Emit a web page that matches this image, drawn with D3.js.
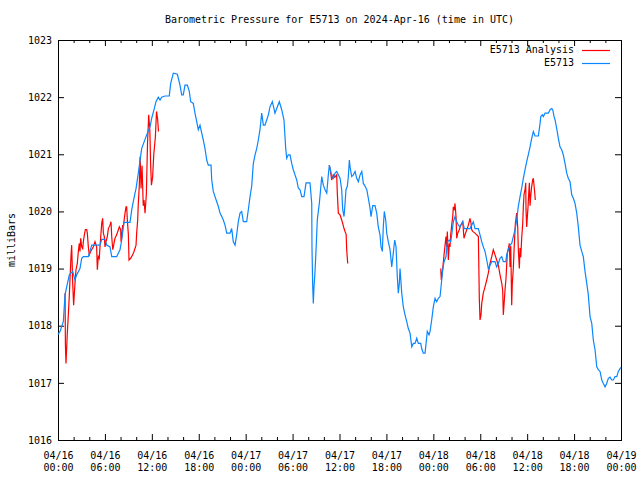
<!DOCTYPE html>
<html><head><meta charset="utf-8">
<script src="https://cdn.jsdelivr.net/npm/d3@7/dist/d3.min.js"></script>
<style>body{margin:0;background:#fff}svg{display:block}</style>
</head><body><svg id="chart" width="640" height="480"></svg>
<script>
// ---- data (hours since 2024-04-16 00:00 UTC, millibars) ----
const chartTitle = "Barometric Pressure for E5713 on 2024-Apr-16 (time in UTC)";
const yLabel = "milliBars";
const seriesNames = ["E5713 Analysis", "E5713"];
const xTickHours = [0,6,12,18,24,30,36,42,48,54,60,66,72];
const xTickDates = ["04/16","04/16","04/16","04/16","04/17","04/17","04/17","04/17","04/18","04/18","04/18","04/18","04/19"];
const xTickTimes = ["00:00","06:00","12:00","18:00","00:00","06:00","12:00","18:00","00:00","06:00","12:00","18:00","00:00"];
const xMinorHours = [2,4,8,10,14,16,20,22,26,28,32,34,38,40,44,46,50,52,56,58,62,64,68,70];
const yTickValues = [1016,1017,1018,1019,1020,1021,1022,1023];

const stationSeries = [[0,1017.85],[0.26,1017.9],[0.68,1018.07],[0.9,1018.54],[1.11,1018.68],[1.45,1018.89],[1.88,1018.95],[2.17,1018.8],[2.39,1018.89],[2.81,1019.0],[3.03,1019.18],[3.24,1019.21],[3.88,1019.21],[4.31,1019.41],[5.37,1019.41],[5.59,1019.51],[6.01,1019.51],[6.23,1019.41],[6.65,1019.38],[6.87,1019.21],[7.51,1019.21],[7.93,1019.33],[8.15,1019.5],[8.44,1019.81],[9.21,1019.81],[9.43,1020.03],[9.63,1020.17],[9.85,1020.32],[9.98,1020.4],[10.27,1020.67],[10.7,1021.1],[11.34,1021.34],[11.77,1021.48],[11.98,1021.63],[12.28,1021.78],[12.53,1021.92],[12.83,1022.0],[13.05,1021.95],[13.26,1022.0],[13.68,1022.02],[14.23,1022.02],[14.41,1022.24],[14.75,1022.42],[15.26,1022.4],[15.6,1022.21],[15.82,1022.04],[16.02,1022.04],[16.24,1022.21],[16.54,1022.21],[16.79,1022.1],[16.97,1021.92],[17.3,1021.89],[17.52,1021.72],[17.74,1021.57],[17.94,1021.43],[18.16,1021.51],[18.38,1021.37],[18.58,1021.25],[18.8,1021.1],[19.02,1020.9],[19.22,1020.81],[19.57,1020.81],[19.66,1020.55],[19.86,1020.35],[20.08,1020.26],[20.3,1020.17],[20.5,1020.09],[20.72,1019.97],[20.94,1019.91],[21.14,1019.85],[21.36,1019.76],[21.58,1019.62],[22.0,1019.62],[22.21,1019.7],[22.42,1019.47],[22.64,1019.41],[22.85,1019.59],[23.06,1019.82],[23.28,1019.97],[23.49,1020.0],[23.7,1019.82],[24.13,1019.82],[24.34,1020.03],[24.56,1020.26],[24.77,1020.44],[24.98,1020.84],[25.2,1020.99],[25.41,1021.1],[25.62,1021.25],[25.83,1021.43],[26.05,1021.72],[26.26,1021.51],[26.47,1021.51],[26.69,1021.6],[26.9,1021.69],[27.11,1021.83],[27.41,1021.92],[27.75,1021.72],[27.97,1021.8],[28.3,1021.92],[28.61,1021.78],[28.9,1021.6],[29.12,1021.1],[29.25,1020.93],[29.45,1020.99],[29.67,1020.99],[29.89,1020.84],[30.09,1020.73],[30.31,1020.64],[30.53,1020.55],[30.73,1020.41],[30.95,1020.38],[31.17,1020.26],[31.46,1020.26],[31.72,1020.5],[32.23,1020.5],[32.45,1020.14],[32.48,1019.38],[32.57,1018.71],[32.65,1018.39],[32.74,1018.68],[32.87,1018.95],[33.0,1019.33],[33.16,1019.85],[33.29,1020.0],[33.42,1020.14],[33.6,1020.41],[33.73,1020.61],[33.93,1020.46],[34.15,1020.38],[34.37,1020.32],[34.57,1020.64],[34.7,1020.81],[34.88,1020.7],[35.0,1020.61],[35.21,1020.58],[35.43,1020.67],[35.64,1020.7],[35.85,1020.64],[36.07,1020.58],[36.28,1020.38],[36.41,1020.03],[36.58,1019.91],[36.71,1020.14],[36.83,1020.38],[37.0,1020.44],[37.13,1020.61],[37.26,1020.9],[37.35,1020.78],[37.56,1020.61],[37.77,1020.64],[37.99,1020.7],[38.2,1020.58],[38.41,1020.52],[38.63,1020.64],[38.85,1020.7],[39.05,1020.49],[39.27,1020.44],[39.49,1020.38],[39.69,1020.23],[39.9,1020.06],[40.03,1019.91],[40.25,1020.1],[40.54,1020.1],[40.76,1019.97],[40.96,1019.73],[41.18,1019.59],[41.31,1019.38],[41.48,1019.3],[41.6,1019.73],[41.73,1020.0],[41.91,1019.85],[42.04,1019.62],[42.24,1019.47],[42.46,1019.33],[42.68,1019.03],[42.88,1019.27],[43.06,1019.5],[43.23,1019.38],[43.39,1018.86],[43.52,1018.57],[43.65,1018.74],[43.74,1019.0],[43.96,1018.57],[44.16,1018.33],[44.38,1018.19],[44.6,1018.07],[44.8,1017.95],[45.02,1017.87],[45.24,1017.63],[45.44,1017.69],[45.66,1017.69],[45.88,1017.78],[46.08,1017.69],[46.39,1017.69],[46.51,1017.6],[46.72,1017.52],[46.94,1017.52],[47.07,1017.69],[47.23,1017.9],[47.45,1017.84],[47.58,1017.9],[47.79,1018.1],[48.0,1018.33],[48.22,1018.48],[48.43,1018.42],[48.64,1018.48],[48.86,1018.51],[49.07,1018.8],[49.2,1018.98],[49.37,1019.12],[49.62,1019.21],[49.79,1019.47],[50.04,1019.5],[50.22,1019.47],[50.35,1019.59],[50.56,1019.82],[50.77,1019.91],[50.99,1019.82],[51.2,1019.76],[51.41,1019.73],[51.63,1019.79],[51.76,1019.82],[51.96,1019.7],[52.69,1019.7],[52.91,1019.76],[53.11,1019.82],[53.33,1019.7],[53.76,1019.7],[53.97,1019.59],[54.19,1019.47],[54.39,1019.38],[54.61,1019.3],[54.83,1019.15],[55.03,1019.0],[55.25,1019.06],[55.47,1019.12],[55.89,1019.12],[56.1,1019.03],[56.31,1019.09],[56.53,1019.18],[56.75,1019.21],[56.95,1019.12],[57.26,1019.12],[57.38,1019.24],[57.59,1019.33],[57.81,1019.41],[58.02,1019.44],[58.23,1019.56],[58.45,1019.68],[58.66,1019.85],[58.87,1020.09],[59.09,1020.26],[59.3,1020.41],[59.51,1020.58],[59.73,1020.73],[59.94,1020.87],[60.14,1020.99],[60.37,1021.13],[60.58,1021.28],[60.79,1021.4],[61.01,1021.32],[61.43,1021.32],[61.65,1021.54],[61.74,1021.66],[61.94,1021.69],[62.07,1021.66],[62.29,1021.72],[62.71,1021.72],[62.93,1021.78],[63.15,1021.8],[63.27,1021.78],[63.44,1021.66],[63.57,1021.6],[63.78,1021.45],[63.99,1021.28],[64.2,1021.13],[64.42,1021.08],[64.62,1020.99],[64.84,1020.84],[65.06,1020.67],[65.26,1020.58],[65.48,1020.52],[65.7,1020.29],[65.9,1020.23],[66.12,1020.14],[66.34,1019.97],[66.54,1019.73],[66.76,1019.41],[66.98,1019.3],[67.18,1019.21],[67.4,1018.95],[67.62,1018.74],[67.82,1018.54],[68.04,1018.16],[68.26,1018.04],[68.46,1017.75],[68.68,1017.58],[68.9,1017.28],[69.1,1017.23],[69.32,1017.2],[69.54,1017.05],[69.74,1016.99],[69.96,1016.93],[70.17,1016.99],[70.38,1017.08],[70.6,1017.1],[70.81,1017.05],[71.02,1017.05],[71.24,1017.11],[71.46,1017.11],[71.66,1017.2],[71.88,1017.25],[72.0,1017.27]];

const analysisPart1 = [[0.9,1018.57],[0.95,1017.66],[1.02,1017.34],[1.19,1017.87],[1.32,1018.19],[1.45,1018.54],[1.53,1018.8],[1.66,1019.21],[1.75,1019.41],[1.88,1018.74],[2.0,1018.36],[2.17,1018.74],[2.3,1018.98],[2.47,1019.09],[2.6,1019.3],[2.72,1019.44],[2.81,1019.3],[2.9,1019.53],[3.03,1019.38],[3.16,1019.35],[3.24,1019.47],[3.37,1019.59],[3.5,1019.68],[3.67,1019.68],[3.75,1019.62],[3.88,1019.38],[4.0,1019.24],[4.18,1019.3],[4.31,1019.33],[4.52,1019.38],[4.73,1019.47],[4.94,1019.38],[5.03,1018.98],[5.16,1019.21],[5.28,1019.18],[5.37,1019.38],[5.59,1019.79],[5.71,1019.88],[5.8,1019.62],[5.92,1019.56],[6.01,1019.38],[6.14,1019.47],[6.31,1019.56],[6.44,1019.7],[6.65,1019.76],[6.78,1019.82],[6.87,1019.56],[7.0,1019.33],[7.08,1019.38],[7.2,1019.47],[7.29,1019.53],[7.5,1019.59],[7.72,1019.68],[7.84,1019.73],[8.02,1019.68],[8.06,1019.47],[8.15,1019.56],[8.27,1019.76],[8.35,1019.73],[8.57,1019.97],[8.7,1020.08],[8.78,1020.08],[8.87,1019.85],[9.0,1019.59],[9.08,1019.15],[9.29,1019.18],[9.55,1019.24],[9.72,1019.3],[9.98,1019.41],[10.06,1019.62],[10.19,1019.85],[10.27,1020.14],[10.4,1020.46],[10.5,1020.96],[10.62,1020.4],[10.75,1020.8],[10.9,1020.1],[11.0,1020.2],[11.13,1019.97],[11.3,1020.3],[11.45,1021.2],[11.6,1021.69],[11.75,1021.4],[11.85,1020.8],[11.95,1020.46],[12.1,1020.6],[12.25,1021.0],[12.45,1021.3],[12.6,1021.75],[12.75,1021.6],[12.85,1021.4]];

const analysisPart2 = [[34.7,1020.81],[34.85,1020.7],[35.0,1020.55],[35.2,1020.64],[35.4,1020.6],[35.64,1020.64],[35.72,1020.32],[35.85,1019.97],[36.07,1019.94],[36.28,1019.85],[36.41,1019.79],[36.58,1019.7],[36.71,1019.65],[36.85,1019.6],[36.92,1019.33],[37.05,1019.09]];

const analysisPart3 = [[48.95,1019.0],[49.02,1018.8],[49.2,1019.0],[49.37,1019.24],[49.5,1019.41],[49.62,1019.56],[49.71,1019.38],[49.79,1019.65],[49.92,1019.15],[50.04,1019.44],[50.13,1019.38],[50.22,1019.59],[50.35,1019.76],[50.48,1019.91],[50.56,1020.08],[50.68,1020.02],[50.77,1020.14],[50.9,1019.91],[50.99,1019.53],[51.12,1019.62],[51.32,1019.68],[51.5,1019.76],[51.76,1019.82],[51.92,1019.53],[52.05,1019.59],[52.27,1019.68],[52.48,1019.76],[52.69,1019.88],[52.82,1019.79],[52.91,1019.68],[53.04,1019.65],[53.33,1019.62],[53.76,1019.56],[53.88,1018.48],[53.97,1018.1],[54.1,1018.19],[54.19,1018.39],[54.39,1018.57],[54.61,1018.68],[54.83,1018.8],[55.03,1018.92],[55.25,1019.09],[55.47,1019.21],[55.67,1019.33],[55.89,1019.24],[56.1,1019.15],[56.31,1019.06],[56.53,1018.89],[56.75,1018.74],[56.87,1018.62],[56.95,1018.19],[57.08,1018.45],[57.17,1018.63],[57.3,1018.84],[57.46,1019.27],[57.59,1019.35],[57.72,1019.44],[57.81,1019.03],[57.9,1019.4],[58.02,1018.36],[58.1,1018.74],[58.23,1019.0],[58.36,1019.44],[58.49,1019.79],[58.66,1019.97],[58.79,1019.73],[58.87,1019.33],[59.0,1019.0],[59.09,1019.36],[59.18,1019.2],[59.3,1019.53],[59.43,1019.79],[59.51,1020.08],[59.6,1020.3],[59.73,1020.38],[59.82,1020.5],[59.85,1020.04],[59.94,1019.73],[60.02,1019.9],[60.11,1020.08],[60.2,1020.32],[60.28,1020.5],[60.37,1020.1],[60.45,1020.26],[60.58,1020.44],[60.71,1020.55],[60.79,1020.58],[60.88,1020.45],[60.97,1020.32],[61.04,1020.2]];

const analysisParts = [analysisPart1, analysisPart2, analysisPart3];

// ---- drawing ----
const W = 640, H = 480;
const plotL = 58, plotR = 621, plotT = 40, plotB = 440;
const FONT = "'DejaVu Sans Mono', 'Liberation Mono', monospace";
const RED = "#ff0000", BLUE = "#0a86ff";

const svg = d3.select("#chart");
svg.append("rect").attr("width", W).attr("height", H).attr("fill", "#fff");

const x = d3.scaleLinear().domain([0, 72]).range([plotL, plotR]);
const y = d3.scaleLinear().domain([1016, 1023]).range([plotB, plotT]);

function styleAxis(g) {
  g.select(".domain").remove();
  g.selectAll("line").attr("stroke", "#000");
  g.selectAll("text").attr("font-family", FONT).attr("font-size", 10).attr("fill", "#000");
}

svg.append("g").attr("transform", `translate(0,${plotB})`)
  .call(d3.axisBottom(x).tickValues(xTickHours).tickSize(-6).tickFormat(""))
  .call(styleAxis);
svg.append("g").attr("transform", `translate(0,${plotB})`)
  .call(d3.axisBottom(x).tickValues(xMinorHours).tickSize(-3).tickFormat(""))
  .call(styleAxis);
svg.append("g").attr("transform", `translate(0,${plotT})`)
  .call(d3.axisTop(x).tickValues(xTickHours).tickSize(-6).tickFormat(""))
  .call(styleAxis);
svg.append("g").attr("transform", `translate(0,${plotT})`)
  .call(d3.axisTop(x).tickValues(xMinorHours).tickSize(-3).tickFormat(""))
  .call(styleAxis);
svg.append("g").attr("transform", `translate(${plotL},0)`)
  .call(d3.axisLeft(y).tickValues(yTickValues).tickSize(-6).tickPadding(6).tickFormat(d3.format("d")))
  .call(styleAxis);
svg.append("g").attr("transform", `translate(${plotR},0)`)
  .call(d3.axisRight(y).tickValues(yTickValues).tickSize(-6).tickFormat(""))
  .call(styleAxis);

const xl = svg.append("g").attr("font-family", FONT).attr("font-size", 10).attr("fill", "#000").attr("text-anchor", "middle");
xTickHours.forEach((h, i) => {
  const t = xl.append("text").attr("x", x(h) + 0.5).attr("y", 459);
  t.append("tspan").attr("x", x(h) + 0.5).attr("dy", 0).text(xTickDates[i]);
  t.append("tspan").attr("x", x(h) + 0.5).attr("dy", 12).text(xTickTimes[i]);
});

svg.append("rect").attr("x", plotL + 0.5).attr("y", plotT + 0.5)
  .attr("width", plotR - plotL).attr("height", plotB - plotT)
  .attr("fill", "none").attr("stroke", "#000").attr("stroke-width", 1);

const line = d3.line().x(d => x(d[0])).y(d => y(d[1]));
const plot = svg.append("g");
analysisParts.forEach(part => {
  plot.append("path").datum(part).attr("d", line)
    .attr("fill", "none").attr("stroke", RED).attr("stroke-width", 1.2);
});
plot.append("path").datum(stationSeries).attr("d", line)
  .attr("fill", "none").attr("stroke", BLUE).attr("stroke-width", 1.2);

svg.append("text").attr("x", (plotL + plotR) / 2).attr("y", 23).attr("text-anchor", "middle")
  .attr("font-family", FONT).attr("font-size", 10).attr("fill", "#000").text(chartTitle);

svg.append("text").attr("transform", `translate(15,${(plotT + plotB) / 2}) rotate(-90)`)
  .attr("text-anchor", "middle").attr("font-family", FONT).attr("font-size", 10).attr("fill", "#000").text(yLabel);

const legendColors = [RED, BLUE];
const lg = svg.append("g");
seriesNames.forEach((name, i) => {
  const ly = 49.5 + i * 13.3;
  lg.append("text").attr("x", 574).attr("y", ly + 3.5).attr("text-anchor", "end")
    .attr("font-family", FONT).attr("font-size", 10).attr("fill", "#000").text(name);
  lg.append("line").attr("x1", 582).attr("x2", 610).attr("y1", Math.round(ly) + 0.5).attr("y2", Math.round(ly) + 0.5)
    .attr("stroke", legendColors[i]).attr("stroke-width", 1.2);
});
</script>
</body></html>
